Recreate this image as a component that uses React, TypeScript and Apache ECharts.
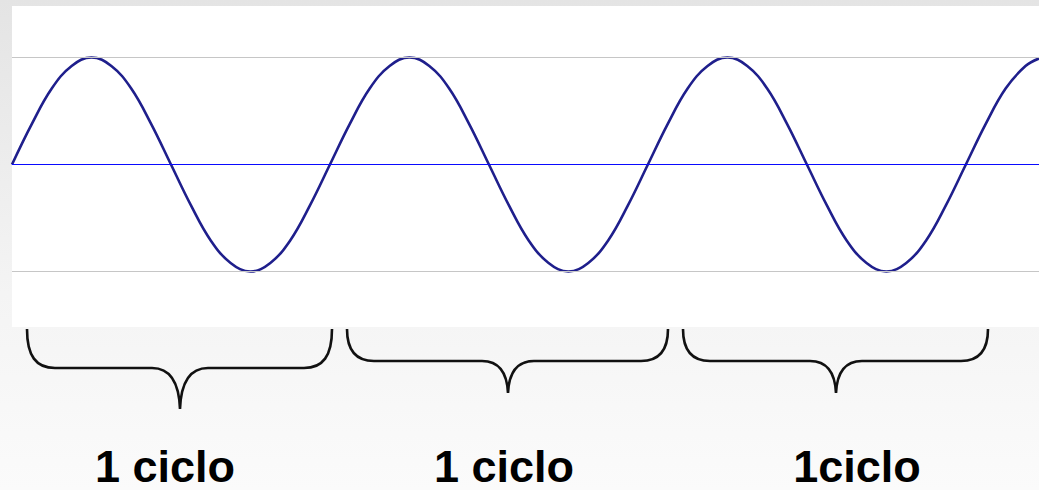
import React, { useEffect, useRef } from "react";
import * as echarts from "echarts";

// time in cycles, amplitude
const cycleTime = [
  0, 0.0625, 0.125, 0.1875, 0.25, 0.3125, 0.375, 0.4375, 0.5, 0.5625, 0.625, 0.6875, 0.75, 0.8125, 0.875, 0.9375,
  1, 1.0625, 1.125, 1.1875, 1.25, 1.3125, 1.375, 1.4375, 1.5, 1.5625, 1.625, 1.6875, 1.75, 1.8125, 1.875, 1.9375,
  2, 2.0625, 2.125, 2.1875, 2.25, 2.3125, 2.375, 2.4375, 2.5, 2.5625, 2.625, 2.6875, 2.75, 2.8125, 2.875, 2.9375,
  3, 3.0625, 3.125, 3.1875, 3.23,
];
const amplitude = [
  0, 0.38, 0.71, 0.92, 1, 0.92, 0.71, 0.38, 0, -0.38, -0.71, -0.92, -1, -0.92, -0.71, -0.38,
  0, 0.38, 0.71, 0.92, 1, 0.92, 0.71, 0.38, 0, -0.38, -0.71, -0.92, -1, -0.92, -0.71, -0.38,
  0, 0.38, 0.71, 0.92, 1, 0.92, 0.71, 0.38, 0, -0.38, -0.71, -0.92, -1, -0.92, -0.71, -0.38,
  0, 0.38, 0.71, 0.92, 0.99,
];
const refLevels = [1, -1];
const axisLevel = 0;
const cycleLabels = ["1 ciclo", "1 ciclo", "1ciclo"];

const braceOne =
  "M27,329 C27,356 36,368 55,368 L152,368 C170,368 179,382 180,409 C181,382 190,368 208,368 L304,368 C323,368 332,356 332,329";
const braceTwo =
  "M347,329 C347,350 356,361 374,361 L482,361 C498,361 507,372 508,393 C509,372 518,361 534,361 L641,361 C659,361 668,350 668,329";
const braceThree =
  "M683,329 C683,350 692,361 710,361 L810,361 C826,361 835,372 836,393 C837,372 846,361 862,361 L961,361 C979,361 988,350 988,329";

let registered = false;
function registerBraces() {
  if (registered) return;
  registered = true;
  echarts.graphic.registerShape("braceOne", echarts.graphic.extendPath(braceOne, {}));
  echarts.graphic.registerShape("braceTwo", echarts.graphic.extendPath(braceTwo, {}));
  echarts.graphic.registerShape("braceThree", echarts.graphic.extendPath(braceThree, {}));
}

export default function App() {
  const ref = useRef<HTMLDivElement>(null);
  useEffect(() => {
    if (!ref.current) return;
    registerBraces();
    const chart = echarts.init(ref.current, undefined, { renderer: "svg" });
    const braceStyle = { stroke: "#111", lineWidth: 2.6, fill: "none" };
    const labelX = [165, 504, 857];
    chart.setOption({
      animation: false,
      backgroundColor: new echarts.graphic.LinearGradient(0, 0, 0, 1, [
        { offset: 0, color: "#e4e4e4" },
        { offset: 0.6, color: "#f4f4f4" },
        { offset: 1, color: "#fbfbfb" },
      ]),
      grid: {
        left: 12,
        top: 6,
        width: 1027,
        height: 321,
        show: true,
        backgroundColor: "#ffffff",
        borderWidth: 0,
      },
      xAxis: { type: "value", min: 0, max: 3.23, show: false },
      yAxis: { type: "value", min: -1.519, max: 1.481, show: false },
      series: [
        {
          type: "line",
          data: cycleTime.map((t, i) => [t, amplitude[i]]),
          smooth: 0.4,
          showSymbol: false,
          lineStyle: { color: "#1f1f8c", width: 2.6 },
          markLine: {
            silent: true,
            symbol: "none",
            label: { show: false },
            data: [
              ...refLevels.map((v) => ({ yAxis: v, lineStyle: { color: "#c6c6c6", width: 1, type: "solid" } })),
              { yAxis: axisLevel, lineStyle: { color: "#0a0aff", width: 1.2, type: "solid" } },
            ],
          },
        },
      ],
      graphic: [
        { type: "braceOne", x: 0, y: 0, style: braceStyle },
        { type: "braceTwo", x: 0, y: 0, style: braceStyle },
        { type: "braceThree", x: 0, y: 0, style: braceStyle },
        ...cycleLabels.map((s, i) => ({
          type: "text",
          x: labelX[i],
          y: 466,
          style: {
            text: s,
            fill: "#000",
            font: "bold 45px 'Liberation Sans', Arial, sans-serif",
            align: "center",
            verticalAlign: "middle",
          },
        })),
      ],
    });
    return () => chart.dispose();
  }, []);
  return (
    <div
      ref={ref}
      style={{ position: "fixed", left: 0, top: 0, width: 1039, height: 490 }}
    />
  );
}
